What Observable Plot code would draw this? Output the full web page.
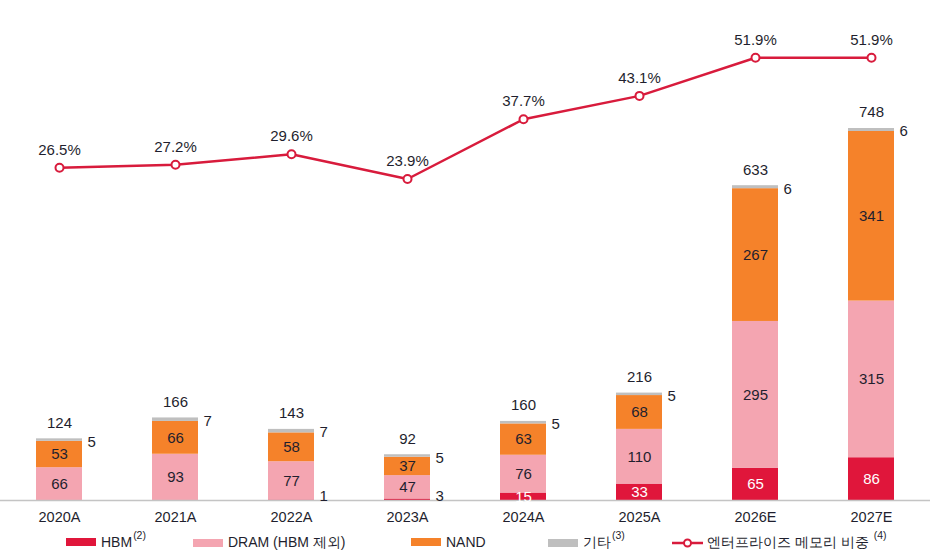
<!DOCTYPE html>
<html>
<head>
<meta charset="utf-8">
<script src="https://cdn.jsdelivr.net/npm/d3@7"></script>
<script src="https://cdn.jsdelivr.net/npm/@observablehq/plot@0.6"></script>
<style>
  html, body { margin: 0; padding: 0; background: #fff; }
  body { width: 930px; height: 556px; overflow: hidden; font-family: "Liberation Sans", Arial, sans-serif; color: #1f1f2e; }
  #chart { position: relative; width: 930px; height: 530px; }
  #chart > svg { position: absolute; left: 0; top: 0; }
  #legend { position: relative; width: 930px; height: 26px; font-size: 14px; }
  .item { position: absolute; top: 4px; display: flex; align-items: center; white-space: nowrap; }
  .sw { width: 30px; height: 8px; margin-right: 5px; }
  .item sup { font-size: 10.5px; position: relative; top: -5px; margin-left: 1px; vertical-align: baseline; align-self: flex-start; }
</style>
</head>
<body>
<div id="chart"></div>
<div id="legend"></div>
<script>
// Memory market by segment (bars, stacked) and enterprise memory share (line)
const years = ["2020A", "2021A", "2022A", "2023A", "2024A", "2025A", "2026E", "2027E"];
const hbm   = [0, 0, 1, 3, 15, 33, 65, 86];
const dram  = [66, 93, 77, 47, 76, 110, 295, 315];
const nand  = [53, 66, 58, 37, 63, 68, 267, 341];
const other = [5, 7, 7, 5, 5, 5, 6, 6];
const totals = [124, 166, 143, 92, 160, 216, 633, 748];
const share = [26.5, 27.2, 29.6, 23.9, 37.7, 43.1, 51.9, 51.9];

const categories = ["HBM", "DRAM (HBM 제외)", "NAND", "기타"];
const colors = ["#e0163b", "#f4a5b1", "#f5822a", "#bfbfbf"];
const lineName = "엔터프라이즈 메모리 비중";
const lineColor = "#d81b3c";
const textColor = "#1f1f2e";
const font = "'Liberation Sans', Arial, sans-serif";

const series = [hbm, dram, nand, other];
const rows = [];
categories.forEach((cat, c) => years.forEach((year, i) => rows.push({year, cat, value: series[c][i]})));

const xScale = {type: "band", domain: years, range: [0, 930], paddingInner: 0.6, paddingOuter: 0.3};

const bars = Plot.plot({
  width: 930,
  height: 530,
  marginTop: 0, marginBottom: 30, marginLeft: 0, marginRight: 0,
  style: {fontFamily: font, fontSize: "14.5px", color: textColor, background: "transparent"},
  x: {...xScale, label: null, tickSize: 0, tickPadding: 11},
  y: {domain: [0, 748], range: [500, 128], axis: null},
  color: {domain: categories, range: colors},
  marks: [
    Plot.barY(rows, {x: "year", y: "value", fill: "cat"}),
    Plot.ruleY([0], {stroke: "#c4c4c4", strokeWidth: 1.5}),
    // segment values inside the bars
    Plot.text(rows, Plot.stackY({
      x: "year", y: "value", z: "cat",
      text: d => (d.cat === "DRAM (HBM 제외)" || d.cat === "NAND") ? String(d.value) : null,
      fill: textColor, fontSize: 15
    })),
    Plot.text(rows, Plot.stackY({
      x: "year", y: "value", z: "cat",
      text: d => (d.cat === "HBM" && d.value >= 10) ? String(d.value) : null,
      fill: "white", fontSize: 15
    })),
    // small HBM values beside the bar
    Plot.text(years.map((y, i) => ({year: y, v: hbm[i]})).filter(d => d.v > 0 && d.v < 10), {
      x: "year", y: 0, text: d => String(d.v), dx: 28, dy: -4, textAnchor: "start",
      fill: textColor, fontSize: 15
    }),
    // other values beside the top of the bar
    Plot.text(years, {
      x: d => d, y: (d, i) => totals[i], text: (d, i) => String(other[i]),
      dx: 28, dy: 3, textAnchor: "start", fill: textColor, fontSize: 15
    }),
    // totals above the bars
    Plot.text(years, {
      x: d => d, y: (d, i) => totals[i], text: (d, i) => String(totals[i]),
      dy: -16, fill: textColor, fontSize: 15
    })
  ]
});

const line = Plot.plot({
  width: 930,
  height: 530,
  marginTop: 0, marginBottom: 30, marginLeft: 0, marginRight: 0,
  style: {fontFamily: font, fontSize: "15px", color: textColor, background: "transparent"},
  x: {...xScale, axis: null},
  y: {domain: [0, 60], range: [282, 22.2], axis: null},
  marks: [
    Plot.line(years, {x: d => d, y: (d, i) => share[i], stroke: lineColor, strokeWidth: 2.5}),
    Plot.dot(years, {x: d => d, y: (d, i) => share[i], r: 4, fill: "white", stroke: lineColor, strokeWidth: 2}),
    Plot.text(years, {
      x: d => d, y: (d, i) => share[i], text: (d, i) => share[i].toFixed(1) + "%",
      dy: -18, fill: textColor, fontSize: 15
    })
  ]
});

const chart = document.getElementById("chart");
chart.appendChild(bars);
chart.appendChild(line);

// legend
const legend = document.getElementById("legend");
const sups = ["(2)", "", "", "(3)"];
const lefts = [66, 193, 411, 548];
categories.forEach((cat, i) => {
  const item = document.createElement("div");
  item.className = "item";
  item.style.left = lefts[i] + "px";
  item.innerHTML = `<span class="sw" style="background:${colors[i]}"></span><span>${cat}</span>` +
    (sups[i] ? `<sup>${sups[i]}</sup>` : "");
  legend.appendChild(item);
});
const lineItem = document.createElement("div");
lineItem.className = "item";
lineItem.style.left = "672px";
lineItem.innerHTML = `<svg width="31" height="12" style="margin-right:4px"><line x1="0" x2="31" y1="6" y2="6" stroke="${lineColor}" stroke-width="2.5"/><circle cx="15.5" cy="6" r="3.5" fill="white" stroke="${lineColor}" stroke-width="2"/></svg><span>${lineName}</span><sup style="margin-left:5px">(4)</sup>`;
legend.appendChild(lineItem);
</script>
</body>
</html>
